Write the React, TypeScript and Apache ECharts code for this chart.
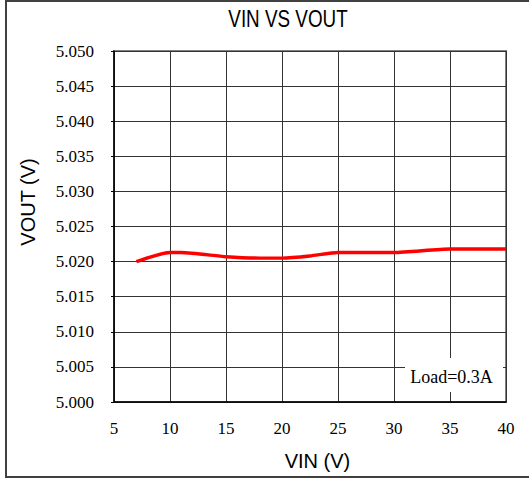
import React, { useEffect, useRef } from "react";
import * as echarts from "echarts";

const titleText = "VIN VS VOUT";
const xAxisTitle = "VIN (V)";
const yAxisTitle = "VOUT (V)";
const noteText = "Load=0.3A";

const vin = [7, 10, 11, 15, 18, 20, 22.5, 25, 30, 35, 40];
const vout = [5.02, 5.0213, 5.0213, 5.0207, 5.0205, 5.0205, 5.0208, 5.0213, 5.0213, 5.0218, 5.0218];

const xMin = 5;
const xMax = 40;
const xStep = 5;
const yMin = 5.0;
const yMax = 5.05;
const yStep = 0.005;

const SERIF = "Liberation Serif";
const SANS = "Liberation Sans";

export default function App() {
  const ref = useRef<HTMLDivElement>(null);
  useEffect(() => {
    if (!ref.current) return;
    const chart = echarts.init(ref.current, undefined, { renderer: "svg" });
    const data = vin.map((x, i) => [x, vout[i]]);
    chart.setOption({
      animation: false,
      backgroundColor: "#ffffff",
      textStyle: { fontFamily: SERIF },
      grid: {
        left: 114,
        top: 51,
        width: 392,
        height: 351,
        show: true,
        borderColor: "#808080",
        borderWidth: 2,
        backgroundColor: "#ffffff",
      },
      xAxis: {
        type: "value",
        min: xMin,
        max: xMax,
        interval: xStep,
        axisLine: { show: true, onZero: false, lineStyle: { color: "#000", width: 1.5 } },
        axisTick: { show: false },
        splitLine: { show: true, lineStyle: { color: "#333", width: 1 } },
        axisLabel: { margin: 18, color: "#000", fontFamily: SERIF, fontSize: 17, fontWeight: "normal" },
      },
      yAxis: {
        type: "value",
        min: yMin,
        max: yMax,
        interval: yStep,
        axisLine: { show: true, onZero: false, lineStyle: { color: "#000", width: 1.5 } },
        axisTick: { show: true, length: 3, lineStyle: { color: "#000" } },
        splitLine: { show: true, lineStyle: { color: "#333", width: 1 } },
        axisLabel: {
          margin: 20,
          color: "#000",
          fontFamily: SERIF,
          fontSize: 17,
          fontWeight: "normal",
          formatter: (v: number) => v.toFixed(3),
        },
      },
      series: [
        {
          type: "line",
          data,
          smooth: 0.2,
          symbol: "none",
          lineStyle: { color: "#ff0000", width: 3.4 },
          z: 5,
        },
      ],
      graphic: [
        {
          type: "rect",
          shape: { x: 6, y: 1, width: 600, height: 476 },
          style: { fill: "none", stroke: "#404040", lineWidth: 2 },
          z: 100,
          silent: true,
        },
        {
          type: "text",
          x: 288,
          y: 18.5,
          scaleX: 0.82,
          style: {
            text: titleText,
            fontFamily: SANS,
            fontSize: 23,
            fill: "#000",
            align: "center",
            verticalAlign: "middle",
          },
        },
        {
          type: "text",
          x: 317.5,
          y: 460.5,
          style: {
            text: xAxisTitle,
            fontFamily: SANS,
            fontSize: 20,
            fill: "#000",
            align: "center",
            verticalAlign: "middle",
          },
        },
        {
          type: "text",
          x: 27.5,
          y: 202,
          rotation: Math.PI / 2,
          style: {
            text: yAxisTitle,
            fontFamily: SANS,
            fontSize: 20,
            fill: "#000",
            align: "center",
            verticalAlign: "middle",
          },
        },
        {
          type: "rect",
          shape: { x: 405, y: 358, width: 98, height: 34 },
          style: { fill: "#ffffff", stroke: "none" },
          z: 50,
        },
        {
          type: "text",
          x: 451.5,
          y: 376.5,
          z: 51,
          style: {
            text: noteText,
            fontFamily: SERIF,
            fontSize: 18,
            fill: "#000",
            align: "center",
            verticalAlign: "middle",
          },
        },
      ],
    });
    return () => chart.dispose();
  }, []);
  return (
    <div
      ref={ref}
      style={{ position: "fixed", left: 0, top: 0, width: 529, height: 479 }}
    />
  );
}
